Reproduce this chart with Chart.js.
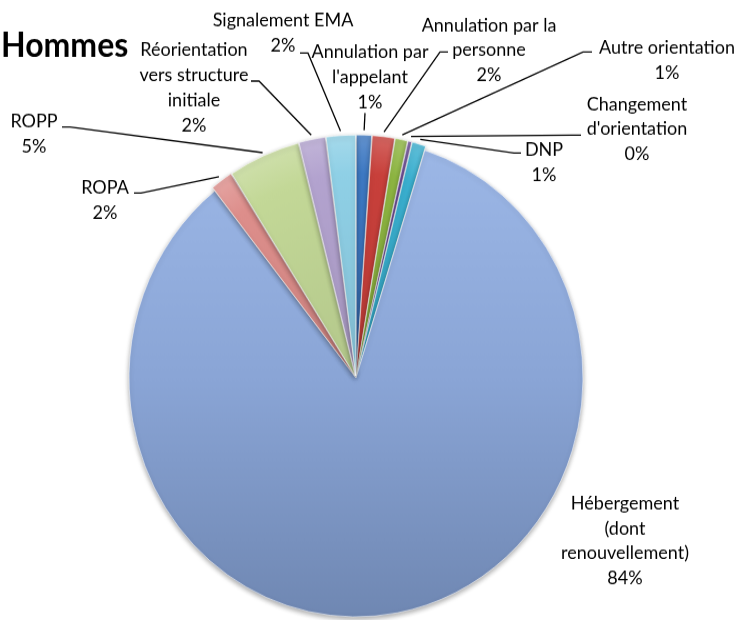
<!DOCTYPE html>
<html>
<head>
<meta charset="utf-8">
<script src="https://cdn.jsdelivr.net/npm/chart.js@4.4.1/dist/chart.umd.min.js"></script>
<style>
html,body{margin:0;padding:0;background:#fff;overflow:hidden;}
#wrap{position:absolute;left:0;top:0;width:738px;height:589px;transform:scaleY(1.05263);transform-origin:0 0;}
canvas{display:block;}
</style>
</head>
<body>
<div id="wrap"><canvas id="c" width="738" height="589"></canvas></div>
<script>
// ---------- data ----------
const chartTitle = 'Hommes';
const categories = [
  "Annulation par l'appelant",
  "Annulation par la personne",
  "Autre orientation",
  "Changement d'orientation",
  "DNP",
  "Hébergement (dont renouvellement)",
  "ROPA",
  "ROPP",
  "Réorientation vers structure initiale",
  "Signalement EMA"
];
const values = [1.1, 1.6, 0.9, 0.3, 1.0, 84.4, 1.6, 5.1, 1.9, 2.1];
const sliceColors = ['#3D78C2', '#C8403B', '#8EB642', '#70509C', '#3AAFCF',
                     '#8CA7D8', '#DD8E8B', '#C3D897', '#B3A3CF', '#8FD0E6'];

// ---------- layout (label text placement, not marks) ----------
const labelLines = [
  ["Annulation par", "l'appelant"],
  ["Annulation par la", "personne"],
  ["Autre orientation"],
  ["Changement", "d'orientation"],
  ["DNP"],
  ["Hébergement", "(dont", "renouvellement)"],
  ["ROPA"],
  ["ROPP"],
  ["Réorientation", "vers structure", "initiale"],
  ["Signalement EMA"]
];
const labelAnchor = [
  [370, 49.4], [489, 23.8], [667, 45.6], [637, 98.8], [544, 142.5],
  [625, 477.9], [105, 178.6], [34, 115.6], [194, 47.5], [283, 19.0]
];
const leaderBends = [
  [[365, 107.4]],
  [[448, 49.4], [440, 49.4]],
  [[592, 49.4], [583, 49.4]],
  [[581, 128.3], [572, 128.3]],
  [[521, 145.4], [514, 145.4]],
  null,
  [[134, 183.4], [141, 183.4]],
  [[62, 120.7], [70, 120.7]],
  [[251, 77.0], [259, 77.0]],
  [[300, 50.4], [308, 50.4]]
];
const LINE_H = 23.8;
const FONT = '18px Lato, "Open Sans", sans-serif';

function shade(hex, f) {
  const n = parseInt(hex.slice(1), 16);
  let r = (n >> 16) & 255, g = (n >> 8) & 255, b = n & 255;
  if (f >= 0) { r += (255 - r) * f; g += (255 - g) * f; b += (255 - b) * f; }
  else { r *= (1 + f); g *= (1 + f); b *= (1 + f); }
  return `rgb(${Math.round(r)},${Math.round(g)},${Math.round(b)})`;
}

function fillFor(context) {
  const i = context.dataIndex;
  const base = sliceColors[i];
  const chart = context.chart;
  const a = chart.chartArea;
  if (!a) return base;
  const cx = (a.left + a.right) / 2, cy = (a.top + a.bottom) / 2;
  const ctx = chart.ctx;
  if (i === 5) {
    const g = ctx.createLinearGradient(0, cy - 230, 0, cy + 230);
    g.addColorStop(0, '#9DB8E7');
    g.addColorStop(0.5, '#8AA5D6');
    g.addColorStop(1, '#6F87B2');
    return g;
  }
  const g = ctx.createRadialGradient(cx, cy, 0, cx, cy, 240);
  g.addColorStop(0, shade(base, -0.08));
  g.addColorStop(0.8, base);
  g.addColorStop(1, shade(base, 0.25));
  return g;
}

const shadowPlugin = {
  id: 'sliceShadow',
  beforeDatasetsDraw(chart) {
    const c = chart.ctx;
    c.save();
    c.shadowColor = 'rgba(0,0,0,0.35)';
    c.shadowBlur = 5;
    c.shadowOffsetX = 0;
    c.shadowOffsetY = 2;
  },
  afterDatasetsDraw(chart) { chart.ctx.restore(); }
};

const labelPlugin = {
  id: 'sliceLabels',
  afterDatasetsDraw(chart) {
    const ctx = chart.ctx;
    const meta = chart.getDatasetMeta(0);
    const total = values.reduce((s, v) => s + v, 0);
    ctx.save();
    ctx.shadowColor = 'rgba(0,0,0,0)';
    ctx.fillStyle = '#000';
    ctx.strokeStyle = '#000';
    ctx.lineWidth = 1.3;
    ctx.font = FONT;
    ctx.textAlign = 'center';
    ctx.textBaseline = 'middle';
    meta.data.forEach((arc, i) => {
      const pct = Math.round(values[i] / total * 100) + '%';
      const lines = labelLines[i].concat([pct]);
      const [lx, ly] = labelAnchor[i];
      lines.forEach((t, j) => ctx.fillText(t, lx, ly + j * LINE_H));
      const bends = leaderBends[i];
      if (bends) {
        const p = arc.getProps(['x', 'y', 'startAngle', 'endAngle', 'outerRadius'], true);
        const mid = (p.startAngle + p.endAngle) / 2;
        const off = arc.options.offset || 0;
        const fix = 1 - Math.sin(Math.min(Math.PI, p.endAngle - p.startAngle));
        const r = p.outerRadius + off / 4 + off * fix - 1;
        const ex = p.x + Math.cos(mid) * r, ey = p.y + Math.sin(mid) * r;
        ctx.beginPath();
        ctx.moveTo(bends[0][0], bends[0][1]);
        for (let k = 1; k < bends.length; k++) ctx.lineTo(bends[k][0], bends[k][1]);
        ctx.lineTo(ex, ey);
        ctx.stroke();
      }
    });
    ctx.textAlign = 'left';
    ctx.textBaseline = 'alphabetic';
    ctx.font = 'bold 32px Lato, "Open Sans", sans-serif';
    ctx.fillText(chartTitle, 1, 54);
    ctx.restore();
  }
};

new Chart(document.getElementById('c'), {
  type: 'pie',
  data: {
    labels: categories,
    datasets: [{
      data: values,
      backgroundColor: fillFor,
      borderColor: 'rgba(255,255,255,0.55)',
      borderWidth: 1,
      offset: values.map((v, i) => i === 5 ? 0 : 8),
      radius: 227
    }]
  },
  options: {
    responsive: false,
    animation: false,
    events: [],
    layout: { padding: { left: 0, right: 26, top: 129, bottom: 0 } },
    plugins: {
      legend: { display: false },
      tooltip: { enabled: false },
      title: { display: false }
    }
  },
  plugins: [shadowPlugin, labelPlugin]
});
</script>
</body>
</html>
